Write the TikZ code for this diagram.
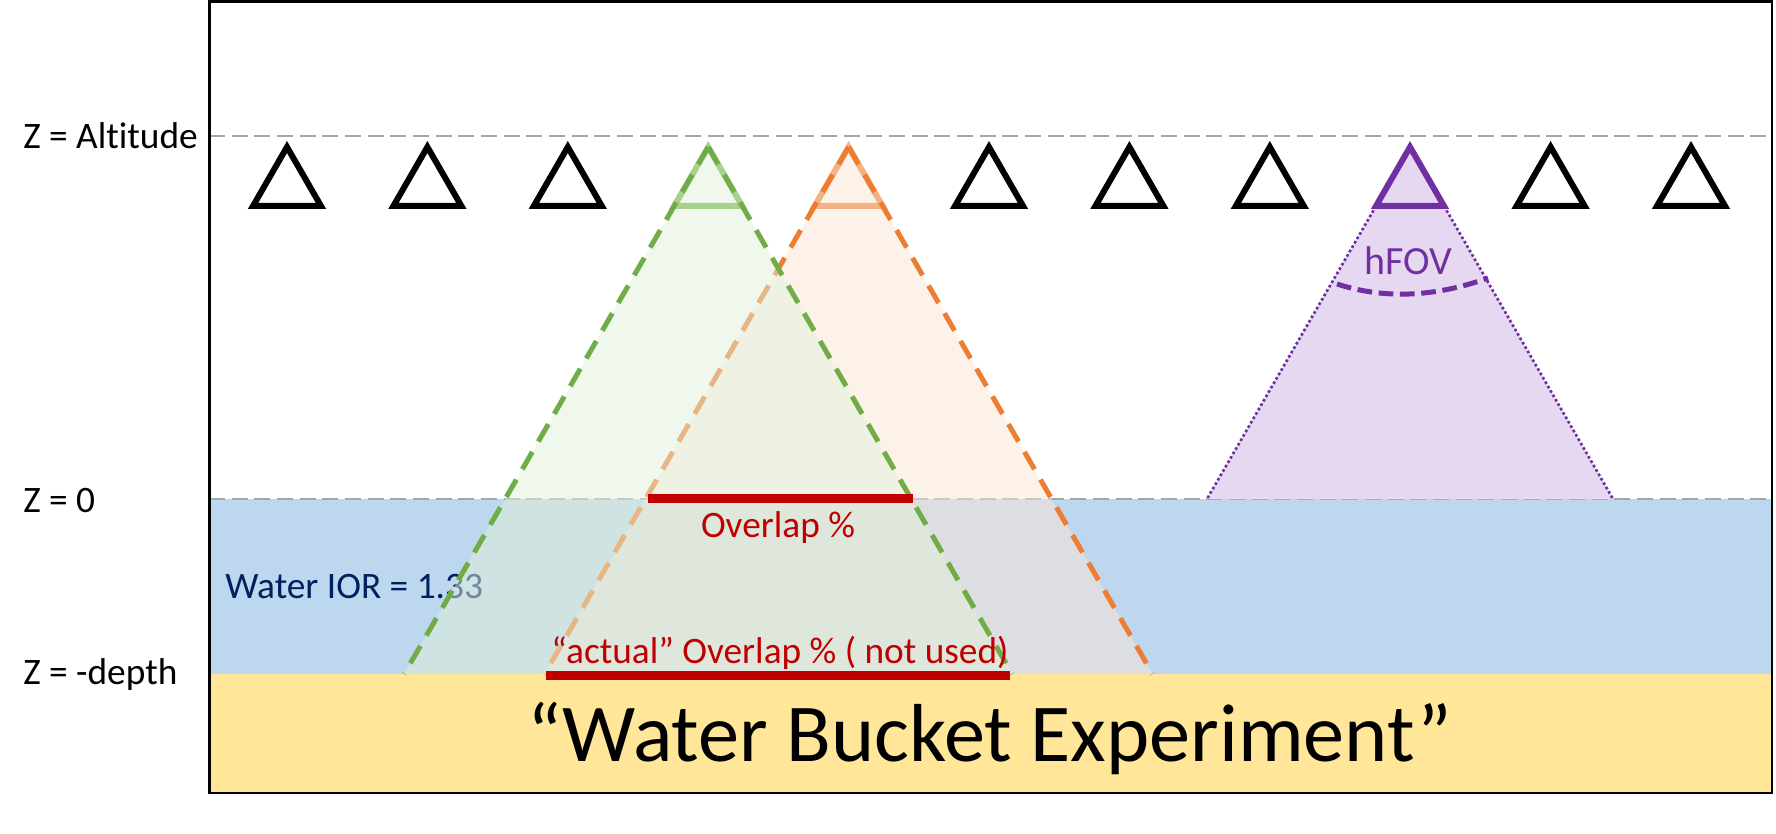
\documentclass[tikz,border=0pt]{standalone}
\usepackage{fontspec}
\setmainfont{Carlito}[Ligatures=CommonOff]
\definecolor{water}{HTML}{BDD7EE}
\definecolor{sand}{HTML}{FFE699}
\definecolor{gridgray}{HTML}{A6A6A6}
\definecolor{navy}{HTML}{002060}
\definecolor{darkred}{HTML}{C00000}
\definecolor{grn}{HTML}{70AD47}
\definecolor{grnlight}{HTML}{A9D18E}
\definecolor{grnfill}{HTML}{E2F0D9}
\definecolor{org}{HTML}{ED7D31}
\definecolor{orglight}{HTML}{F4B183}
\definecolor{orgfill}{HTML}{FBE5D6}
\definecolor{purp}{HTML}{7030A0}
\definecolor{purpfill}{HTML}{E7D8F2}
\begin{document}
\begin{tikzpicture}[x=0.75pt,y=-0.75pt,
  lbl/.style={inner sep=0pt, font=\fontsize{28}{32}\selectfont},
  level/.style={gridgray, line width=1.5pt, dash pattern=on 12pt off 5pt},
  cam/.style={line width=4.5pt, line join=miter},
  fov/.style={line width=3.75pt, dash pattern=on 15pt off 9pt},
  bar/.style={darkred, line width=6.75pt},
]
\useasboundingbox (0,0) rectangle (1776,834);
% water and ground
\fill[water] (209,499) rectangle (1772,674);
\fill[sand] (209,674) rectangle (1772,793);
% level lines
\coordinate (altL) at (209,136); \coordinate (altR) at (1772,136);
\coordinate (zeroL) at (209,499); \coordinate (zeroR) at (1772,499);
\draw[level] (altL) -- (altR);
\draw[level] (zeroL) -- (zeroR);
% level labels
\node[lbl, anchor=base west] (lalt) at (23,149) {Z = Altitude};
\node[lbl, anchor=base west] (lzero) at (23,512) {Z = 0};
\node[lbl, anchor=base west] (ldepth) at (23,684) {Z = -depth};
\node[lbl, anchor=base west, text=navy] (ior) at (225,598) {Water IOR = 1.33};
% black cameras
\foreach \i in {0,1,2,5,6,7,9,10}{
  \pgfmathsetmacro\c{287+140.4*\i}
  \draw[cam] (\c,147) -- (\c+34,206) -- (\c-34,206) -- cycle;
}
% purple camera with FOV
\coordinate (pA) at (1410,147);
\coordinate (pL) at (1376,206); \coordinate (pR) at (1444,206);
\coordinate (pLb) at (1207,499); \coordinate (pRb) at (1613,499);
\fill[purpfill] (pA) -- (pRb) -- (pLb) -- cycle;
\draw[purp, line width=2pt, dash pattern=on 2pt off 1.8pt] (pL) -- (pLb);
\draw[purp, line width=2pt, dash pattern=on 2pt off 1.8pt] (pR) -- (pRb);
\draw[cam, purp] (pA) -- (pR) -- (pL) -- cycle;
\coordinate (arcL) at (1337,284); \coordinate (arcR) at (1488,278);
\draw[purp, line width=3.75pt, dash pattern=on 11pt off 5pt] (arcL) .. controls (1384,299.3) and (1434.3,297.3) .. (arcR);
\node[inner sep=0pt, anchor=base, text=purp, font=\fontsize{30}{34}\selectfont] (hfov) at (1408,274) {hFOV};
% orange camera with FOV
\coordinate (oA) at (848.6,147);
\coordinate (oL) at (814.6,206); \coordinate (oR) at (882.6,206);
\coordinate (oLb) at (544.6,674); \coordinate (oRb) at (1152.6,674);
\fill[orgfill, fill opacity=0.5] (oA) -- (oRb) -- (oLb) -- cycle;
\draw[cam, orglight] (oA) -- (oR) -- (oL) -- cycle;
\draw[fov, org] (oA) -- (oLb);
\draw[fov, org] (oA) -- (oRb);
% green camera with FOV
\coordinate (gA) at (708.2,147);
\coordinate (gL) at (674.2,206); \coordinate (gR) at (742.2,206);
\coordinate (gLb) at (404.2,674); \coordinate (gRb) at (1012.2,674);
\fill[grnfill, fill opacity=0.5] (gA) -- (gRb) -- (gLb) -- cycle;
\draw[cam, grnlight] (gA) -- (gR) -- (gL) -- cycle;
\draw[fov, grn] (gA) -- (gLb);
\draw[fov, grn] (gA) -- (gRb);
% overlap bars
\coordinate (ov1) at (648,498); \coordinate (ov2) at (913,498);
\draw[bar] (ov1) -- (ov2);
\node[lbl, anchor=base, text=darkred] (ovt) at (778,537) {Overlap \%};
\coordinate (ac1) at (546,675.5); \coordinate (ac2) at (1010,675.5);
\draw[bar] (ac1) -- (ac2);
\node[lbl, anchor=base, text=darkred] (act) at (780,663) {“actual” Overlap \% ( not used)};
% title
\node[inner sep=0pt, anchor=base, font=\fontsize{61.7}{70}\selectfont] (title) at (990,761) {“Water Bucket Experiment”};
% frame
\draw[line width=1.9pt] (209.5,1.5) rectangle (1772,793);
\end{tikzpicture}
\end{document}
